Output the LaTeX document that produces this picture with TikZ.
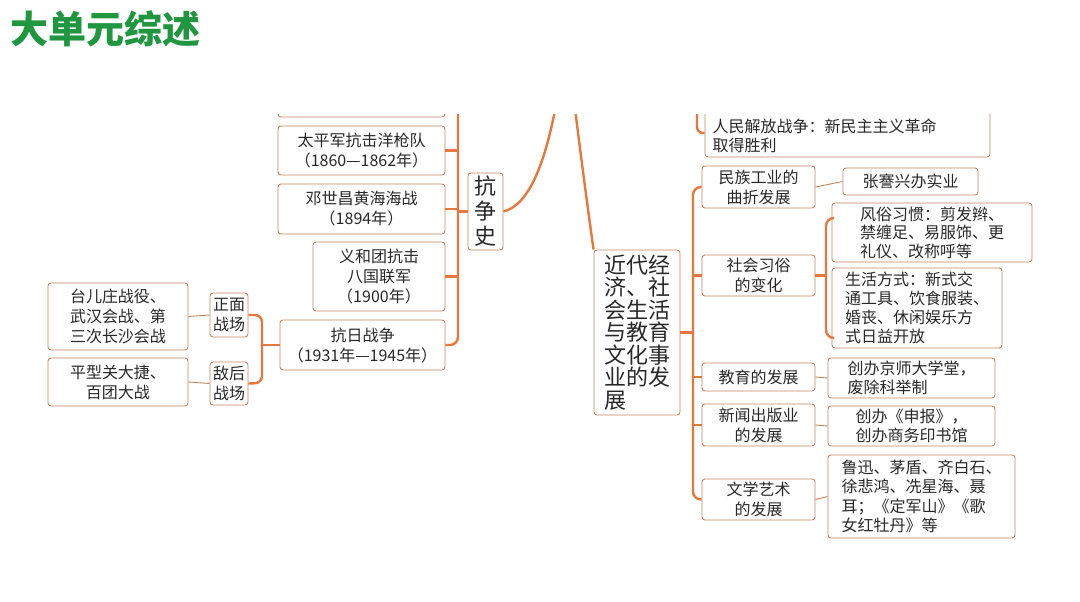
\documentclass[tikz,border=0pt]{standalone}
\usepackage{fontspec}
\setmainfont{Noto Sans CJK SC}
\usetikzlibrary{calc}
\definecolor{br}{RGB}{228,120,62}
\definecolor{bd}{RGB}{196,130,95}
\definecolor{tx}{RGB}{40,40,40}
\definecolor{ttl}{RGB}{32,150,64}
\tikzset{
  bline/.style={draw=br,line width=2.4pt},
  cline/.style={draw=bd,line width=0.9pt},
  tbox/.style={draw=bd,line width=0.9pt,rounded corners=3pt,inner sep=0pt,align=center,text=tx},
  ttxt/.style={text=tx,font=\fontsize{16}{20}\selectfont,align=center},
  ltxt/.style={text=tx,font=\fontsize{16}{19}\selectfont,align=left},
}
\newcommand{\bx}[5]{\node[tbox,minimum width=#4-#2,minimum height=#5-#3] (#1) at ({(#2+#4)/2},{(#3+#5)/2}) {};}
\begin{document}
\begin{tikzpicture}[x=1pt,y=-1pt]
\useasboundingbox (0,0) rectangle (1080,602);
\node[anchor=west,text=ttl,font=\fontsize{38}{40}\selectfont\bfseries] (title) at (7,29) {大单元综述};
\begin{scope}
\clip (0,115) rectangle (1080,602);
% left
\bx{cut}{278}{90}{445}{117}
\bx{tp}{278}{126}{445}{175}
\node[ttxt] at (tp) {太平军抗击洋枪队\\（1860—1862年）};
\bx{dsc}{278}{184}{445}{234}
\node[ttxt] at (dsc) {邓世昌黄海海战\\（1894年）};
\bx{yht}{313}{242}{445}{311}
\node[ttxt] at (yht) {义和团抗击\\八国联军\\（1900年）};
\bx{kr}{280}{320}{445}{370}
\node[ttxt] at (kr) {抗日战争\\（1931年—1945年）};
\bx{ksh}{468}{173}{503}{250}
\node[text=tx,font=\fontsize{22}{25}\selectfont,align=center] at (ksh) {抗\\争\\史};
\bx{zm}{210}{293}{248}{337}
\node[ttxt] at (zm) {正面\\战场};
\bx{dh}{210}{362}{248}{405}
\node[ttxt] at (dh) {敌后\\战场};
\bx{tez}{48}{283}{188}{350}
\node[ttxt] at (tez) {台儿庄战役、\\武汉会战、第\\三次长沙会战};
\bx{pxg}{48}{358}{188}{406}
\node[ttxt] at (pxg) {平型关大捷、\\百团大战};
\coordinate (lt) at (458,0);
\coordinate (zt) at (262,0);
\draw[bline,rounded corners=8] (458,100) |- (kr.east);
\foreach \n in {tp,dsc,yht} \draw[bline] (\n.east) -- (\n.east -| lt);
\draw[bline] (ksh.west) -- (ksh.west -| lt);
\draw[bline,rounded corners=7] (zm.east) -| (262,383) -- (dh.east);
\draw[bline] (kr.west) -- (kr.west -| zt);
\draw[cline] (tez.east) -- (zm.west);
\draw[cline] (pxg.east) -- (dh.west);
% right
\bx{main}{594}{250}{680}{415}
\node[text=tx,font=\fontsize{22}{22.5}\selectfont,align=left] at (main) {近代经\\济、社\\会生活\\与教育\\文化事\\业的发\\展};
\draw[bline] (ksh.east) .. controls (530,205) and (546,160) .. (557,100);
\draw[bline] (574,100) .. controls (580,150) and (588,210) .. (main.north west);
\bx{rm}{705}{95}{990}{157}
\node[ltxt,anchor=north west] at (709,115) {人民解放战争：新民主主义革命\\取得胜利};
\draw[bline,rounded corners=6] (697,100) |- (rm.west |- 0,133);
\bx{mz}{702}{166}{815}{208}
\node[ttxt] at (mz) {民族工业的\\曲折发展};
\bx{zj}{843}{168}{978}{195}
\node[ttxt] at (zj) {张謇兴办实业};
\bx{sh}{702}{255}{815}{296}
\node[ttxt] at (sh) {社会习俗\\的变化};
\bx{fs}{832}{203}{1032}{262}
\node[text=tx,font=\fontsize{16}{18.5}\selectfont,align=left] at (fs) {风俗习惯：剪发辫、\\禁缠足、易服饰、更\\礼仪、改称呼等};
\bx{shf}{832}{268}{1002}{348}
\node[ltxt] at (shf) {生活方式：新式交\\通工具、饮食服装、\\婚丧、休闲娱乐方\\式日益开放};
\bx{jy}{702}{363}{815}{391}
\node[ttxt] at (jy) {教育的发展};
\bx{jsd}{828}{358}{995}{398}
\node[ltxt] at (jsd) {创办京师大学堂，\\废除科举制};
\bx{xw}{702}{404}{815}{446}
\node[ttxt] at (xw) {新闻出版业\\的发展};
\bx{sb}{828}{406}{995}{446}
\node[ltxt] at (sb) {创办《申报》，\\创办商务印书馆};
\bx{wx}{702}{479}{815}{520}
\node[ttxt] at (wx) {文学艺术\\的发展};
\bx{lx}{828}{455}{1015}{538}
\node[text=tx,font=\fontsize{16}{19.5}\selectfont,align=left] at (lx) {鲁迅、茅盾、齐白石、\\徐悲鸿、冼星海、聂\\耳；《定军山》《歌\\女红牡丹》等};
\coordinate (tr) at (693,0);
\coordinate (st) at (826,0);
\draw[bline,rounded corners=8] (mz.west) -| (693,499.5) -- (wx.west);
\foreach \n in {sh,jy,xw} \draw[bline] (\n.west) -- (\n.west -| tr);
\draw[bline] (main.east) -- (main.east -| tr);
\draw[bline,rounded corners=8] (fs.west |- 0,218) -| (826,338) -- (shf.west |- 0,338);
\draw[bline] (sh.east) -- (sh.east -| st);
\draw[cline] (mz.east) -- (zj.west);
\draw[cline] (jy.east) -- (jsd.west);
\draw[cline] (xw.east) -- (sb.west);
\draw[cline] (wx.east) -- (lx.west);
\end{scope}
\end{tikzpicture}
\end{document}
